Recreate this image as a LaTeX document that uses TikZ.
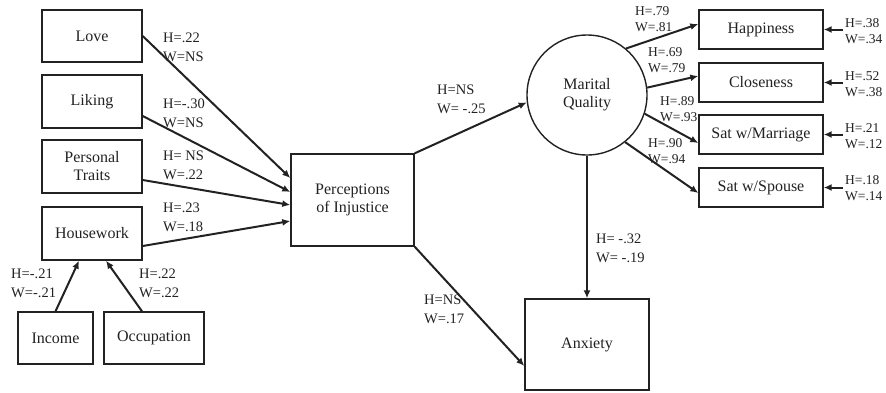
\documentclass[tikz,border=0pt]{standalone}
\usepackage{fontspec}
\setmainfont{Liberation Serif}
\usetikzlibrary{arrows.meta,calc}
\definecolor{ink}{HTML}{222222}
\tikzset{
  box/.style={draw=ink, line width=1.4pt, minimum width=100pt, minimum height=52pt, inner sep=0pt, align=center, font=\fontsize{16}{18}\selectfont, text=ink},
  ind/.style={box, minimum width=124pt, minimum height=39pt},
  lat/.style={draw=ink, line width=1.4pt, circle, minimum size=120pt, inner sep=0pt, align=center, font=\fontsize{16}{18}\selectfont, text=ink},
  path/.style={draw=ink, line width=2pt, -{Latex[length=8pt,width=7pt]}},
  lab/.style={anchor=west, inner sep=0pt, align=left, font=\fontsize{14.5}{19}\selectfont, text=ink},
  slab/.style={anchor=west, inner sep=0pt, align=left, font=\fontsize{13.5}{16.5}\selectfont, text=ink},
}
\begin{document}
\begin{tikzpicture}[x=1pt,y=-1pt]
\useasboundingbox (0,0) rectangle (886,392);
% exogenous boxes
\node[box] (love) at (92,36) {Love};
\node[box, minimum height=53pt] (liking) at (92,101.5) {Liking};
\node[box, minimum height=53pt] (traits) at (92,166.5) {Personal\\Traits};
\node[box, minimum height=53pt] (house) at (92,233.5) {Housework};
\node[box, minimum width=75pt] (income) at (55.5,338) {Income};
\node[box] (occ) at (154,338) {Occupation};
% mediator and outcomes
\node[box, minimum width=123pt, minimum height=92pt] (perc) at (352.5,200) {Perceptions\\of Injustice};
\node[lat] (mq) at (587,95) {Marital\\Quality};
\node[box, minimum width=124pt, minimum height=91pt] (anx) at (587,344.5) {Anxiety};
% indicators
\node[ind] (happy) at (761,29.5) {Happiness};
\node[ind] (close) at (761,82.5) {Closeness};
\node[ind] (marr) at (761,134.5) {Sat w/Marriage};
\node[ind] (spouse) at (761,187.5) {Sat w/Spouse};
% error coordinates
\coordinate (e1) at (843,29.5);
\coordinate (e2) at (843,82.5);
\coordinate (e3) at (843,134.5);
\coordinate (e4) at (843,187.5);
% paths into perceptions
\draw[path] (love.east) -- ([yshift=22pt]perc.west);
\draw[path] ([yshift=-14.5pt]liking.east) -- ([yshift=8pt]perc.west);
\draw[path] ([yshift=-13.5pt]traits.east) -- ([yshift=-5pt]perc.west);
\draw[path] ([yshift=-12.5pt]house.east) -- ([yshift=-21pt]perc.west);
\draw[path] (income.north) -- ([xshift=-13pt]house.south);
\draw[path] ([xshift=-12pt]occ.north) -- ([xshift=14pt]house.south);
% perceptions to outcomes
\draw[path] (perc.north east) -- (mq.187);
\draw[path] (perc.south east) -- ([yshift=-21.5pt]anx.west);
\draw[path] (mq.south) -- (anx.north);
% measurement
\draw[path] (mq.50) -- ([yshift=5.5pt]happy.west);
\draw[path] (mq.7) -- ([yshift=6.5pt]close.west);
\draw[path] (mq.-18) -- ([yshift=-8.5pt]marr.west);
\draw[path] (mq.-51) -- ([yshift=-5.5pt]spouse.west);
\draw[path] (e1) -- (happy.east);
\draw[path] (e2) -- (close.east);
\draw[path] (e3) -- (marr.east);
\draw[path] (e4) -- (spouse.east);
% labels
\node[lab] (l1) at (163,47) {H=.22\\W=NS};
\node[lab] (l2) at (163,113) {H=-.30\\W=NS};
\node[lab] (l3) at (163,165) {H= NS\\W=.22};
\node[lab] (l4) at (163,217) {H=.23\\W=.18};
\node[lab] (l5) at (11,283) {H=-.21\\W=-.21};
\node[lab] (l6) at (139,283) {H=.22\\W=.22};
\node[lab] (l7) at (437,99) {H=NS\\W= -.25};
\node[lab] (l8) at (424,309) {H=NS\\W=.17};
\node[lab] (l9) at (596,248) {H= -.32\\W= -.19};
\node[slab] (r1) at (635,19) {H=.79\\W=.81};
\node[slab] (r2) at (648,60) {H=.69\\W=.79};
\node[slab] (r3) at (660,109) {H=.89\\W=.93};
\node[slab] (r4) at (648,151) {H=.90\\W=.94};
\node[slab] (x1) at (845,31) {H=.38\\W=.34};
\node[slab] (x2) at (845,84) {H=.52\\W=.38};
\node[slab] (x3) at (845,136) {H=.21\\W=.12};
\node[slab] (x4) at (845,188) {H=.18\\W=.14};
\end{tikzpicture}
\end{document}
